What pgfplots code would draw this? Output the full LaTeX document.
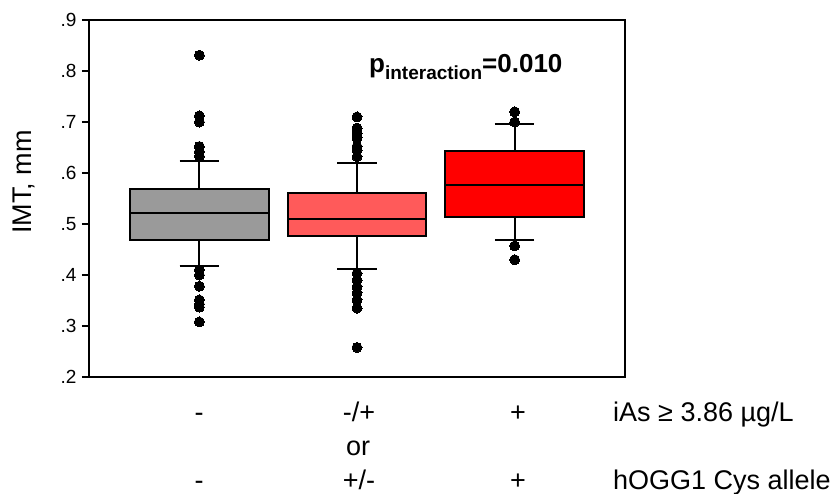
\documentclass[border=0pt]{standalone}
\usepackage{pgfplots}
\pgfplotsset{compat=1.18}
\usepgfplotslibrary{statistics}
\usepackage{fontspec}
\setmainfont{Liberation Sans}
\definecolor{boxgray}{HTML}{9A9A9A}
\definecolor{boxsalmon}{HTML}{FF5A5A}
\definecolor{boxred}{HTML}{FF0000}
\begin{document}
\begin{tikzpicture}
\useasboundingbox (0,0) rectangle (835pt,-494pt);
\begin{axis}[
  at={(89pt,-377pt)}, anchor=south west,
  scale only axis, width=536pt, height=357pt,
  xmin=0.3, xmax=3.7, ymin=0.2, ymax=0.9,
  boxplot/draw direction=y,
  boxplot/every whisker/.style={/tikz/line width=2pt, /tikz/draw=black},
  boxplot/every median/.style={/tikz/line width=1.9pt, /tikz/draw=black},
  boxplot/every box/.style={/tikz/line width=1.9pt, /tikz/draw=black},
  xtick=\empty,
  ytick={0.2,0.3,0.4,0.5,0.6,0.7,0.8,0.9},
  yticklabels={.2,.3,.4,.5,.6,.7,.8,.9},
  ytick pos=left, tick align=outside,
  major tick length=7pt,
  tick style={line width=1.5pt, black},
  axis line style={line width=1.8pt, black},
  yticklabel style={font=\fontsize{19}{19}\selectfont, xshift=-2pt},
  /pgf/number format/assume math mode=true,
  clip=false,
]
\addplot[boxplot prepared={draw position=1, lower whisker=0.418, lower quartile=0.469,
  median=0.522, upper quartile=0.5686, upper whisker=0.6235, box extend=0.88, whisker extend=0.25},
  fill=boxgray, draw=black, line width=1.9pt, mark=*, mark size=5pt,
  mark options={fill=black, draw=black, line width=0pt}]
  table[row sep=\\, y index=0] {0.831\\0.712\\0.700\\0.652\\0.642\\0.633\\0.410\\0.400\\0.378\\0.351\\0.343\\0.337\\0.308\\};
\addplot[boxplot prepared={draw position=2, lower whisker=0.412, lower quartile=0.476,
  median=0.510, upper quartile=0.561, upper whisker=0.620, box extend=0.88, whisker extend=0.25},
  fill=boxsalmon, draw=black, line width=1.9pt, mark=*, mark size=5pt,
  mark options={fill=black, draw=black, line width=0pt}]
  table[row sep=\\, y index=0] {0.710\\0.688\\0.678\\0.669\\0.652\\0.645\\0.632\\0.403\\0.390\\0.377\\0.365\\0.351\\0.335\\0.258\\};
\addplot[boxplot prepared={draw position=3, lower whisker=0.468, lower quartile=0.514,
  median=0.577, upper quartile=0.644, upper whisker=0.697, box extend=0.88, whisker extend=0.25},
  fill=boxred, draw=black, line width=1.9pt, mark=*, mark size=5pt,
  mark options={fill=black, draw=black, line width=0pt}]
  table[row sep=\\, y index=0] {0.720\\0.700\\0.457\\0.430\\};
\end{axis}
% p interaction
\node[anchor=base west, inner sep=0pt, font=\fontsize{26}{26}\selectfont\bfseries] at (369pt,-73pt)
  {p\raisebox{-7pt}{\fontsize{19}{19}\selectfont interaction}=0.010};
% y label
\node[rotate=90, anchor=center, inner sep=0pt, font=\fontsize{27}{27}\selectfont] at (24pt,-182pt) {IMT, mm};
% bottom labels
\begin{scope}[every node/.style={inner sep=0pt, font=\fontsize{27}{27}\selectfont}]
\node[anchor=base] at (199pt,-421pt) {-};
\node[anchor=base] at (359pt,-421pt) {-/+};
\node[anchor=base] at (518pt,-421pt) {+};
\node[anchor=base west] at (613pt,-421pt) {iAs ≥ 3.86 µg/L};
\node[anchor=base] at (358pt,-455pt) {or};
\node[anchor=base] at (199pt,-489pt) {-};
\node[anchor=base] at (359pt,-489pt) {+/-};
\node[anchor=base] at (518pt,-489pt) {+};
\node[anchor=base west] at (613pt,-489pt) {hOGG1 Cys allele};
\end{scope}
\end{tikzpicture}
\end{document}
